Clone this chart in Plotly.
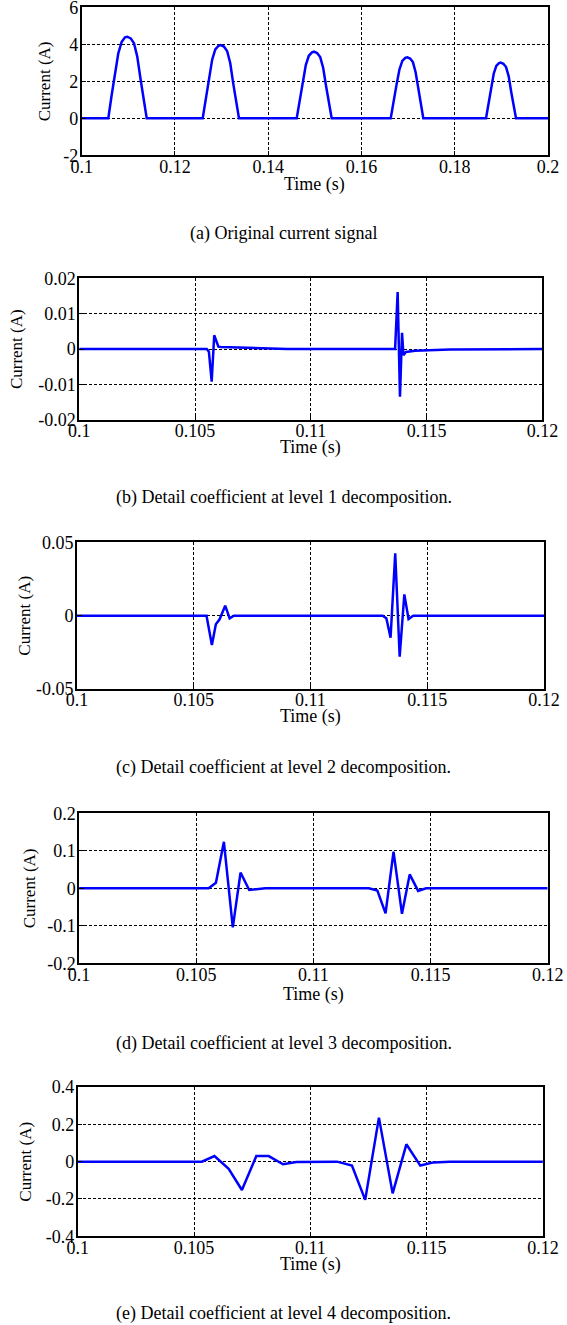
import plotly.graph_objects as go

# ---------------- data ----------------
a_time = [0.1,
          0.10571, 0.10643, 0.10714, 0.10785, 0.10858, 0.10929, 0.10978, 0.11051, 0.11122, 0.11192, 0.11265, 0.11336, 0.11394,
          0.12595, 0.12663, 0.12730, 0.12798, 0.12865, 0.12935, 0.12981, 0.13050, 0.13118, 0.13185, 0.13251, 0.13318, 0.13373,
          0.14611, 0.14676, 0.14741, 0.14806, 0.14871, 0.14938, 0.14982, 0.15048, 0.15115, 0.15179, 0.15244, 0.15308, 0.15361,
          0.16627, 0.16689, 0.16752, 0.16814, 0.16876, 0.16940, 0.16983, 0.17043, 0.17103, 0.17161, 0.17220, 0.17278, 0.17326,
          0.18671, 0.18726, 0.18781, 0.18836, 0.18891, 0.18948, 0.18986, 0.19043, 0.19101, 0.19157, 0.19212, 0.19268, 0.19314,
          0.2]
a_vals = [0,
          0, 1.26, 2.43, 3.51, 4.14, 4.38, 4.41, 4.32, 4.05, 3.33, 2.07, 0.81, 0,
          0, 1.15, 2.18, 3.17, 3.72, 3.92, 3.96, 3.88, 3.64, 2.99, 1.86, 0.71, 0,
          0, 1.04, 1.98, 2.88, 3.38, 3.56, 3.60, 3.53, 3.31, 2.72, 1.69, 0.65, 0,
          0, 0.96, 1.82, 2.64, 3.10, 3.27, 3.30, 3.23, 3.04, 2.49, 1.55, 0.59, 0,
          0, 0.87, 1.66, 2.41, 2.83, 2.98, 3.01, 2.95, 2.77, 2.27, 1.41, 0.54, 0,
          0]

b_time = [0.1, 0.10551, 0.10560, 0.10572, 0.10583, 0.10601, 0.10612, 0.1070, 0.1080, 0.1090,
          0.11364, 0.11375, 0.11385, 0.11394, 0.11400, 0.11411, 0.1145, 0.1150, 0.1160, 0.12]
b_vals = [0, 0, -0.00075, -0.0092, 0.0039, 0.0007, 0.0006, 0.0004, 0.0002, 0,
          0, 0.0161, -0.01343, 0.0046, -0.0017, -0.0008, -0.0005, -0.0003, -0.0001, 0]

c_time = [0.1, 0.10555, 0.10578, 0.10595, 0.10611, 0.10635, 0.10654, 0.10672,
          0.11309, 0.11325, 0.11343, 0.11363, 0.11382, 0.11402, 0.11420, 0.11440, 0.12]
c_vals = [0, 0, -0.0200, -0.0059, -0.0025, 0.0068, -0.0018, 0,
          0, -0.0018, -0.0150, 0.0425, -0.0280, 0.0145, -0.0023, 0, 0]

d_time = [0.1, 0.10553, 0.10584, 0.10618, 0.10656, 0.10689, 0.10726, 0.10795,
          0.11237, 0.11273, 0.11308, 0.11342, 0.11378, 0.11411, 0.11447, 0.11481, 0.12]
d_vals = [0, 0, 0.015, 0.124, -0.104, 0.042, -0.0044, 0,
          0, -0.006, -0.067, 0.098, -0.068, 0.037, -0.007, 0, 0]

e_time = [0.1, 0.10534, 0.10588, 0.10649, 0.10706, 0.10768, 0.10821, 0.10883, 0.10940,
          0.11115, 0.11179, 0.11236, 0.11295, 0.11354, 0.11413, 0.11473, 0.11530, 0.1160, 0.12]
e_vals = [0, 0, 0.030, -0.039, -0.152, 0.030, 0.030, -0.014, -0.002,
          0, -0.021, -0.205, 0.236, -0.170, 0.093, -0.021, -0.004, 0, 0]

a_xticks = [0.1, 0.12, 0.14, 0.16, 0.18, 0.2]
a_xlabels = ["0.1", "0.12", "0.14", "0.16", "0.18", "0.2"]
d_xticks = [0.1, 0.105, 0.11, 0.115, 0.12]
d_xlabels = ["0.1", "0.105", "0.11", "0.115", "0.12"]

a_yticks = [-2, 0, 2, 4, 6]
a_ylabels = ["-2", "0", "2", "4", "6"]
b_yticks = [-0.02, -0.01, 0, 0.01, 0.02]
b_ylabels = ["-0.02", "-0.01", "0", "0.01", "0.02"]
c_yticks = [-0.05, 0, 0.05]
c_ylabels = ["-0.05", "0", "0.05"]
d_yticks = [-0.2, -0.1, 0, 0.1, 0.2]
d_ylabels = ["-0.2", "-0.1", "0", "0.1", "0.2"]
e_yticks = [-0.4, -0.2, 0, 0.2, 0.4]
e_ylabels = ["-0.4", "-0.2", "0", "0.2", "0.4"]

captions = ["(a) Original current signal",
            "(b) Detail coefficient at level 1 decomposition.",
            "(c) Detail coefficient at level 2 decomposition.",
            "(d) Detail coefficient at level 3 decomposition.",
            "(e) Detail coefficient at level 4 decomposition."]
xlabel = "Time (s)"
ylabel = "Current (A)"

# ---------------- layout geometry (pixels) ----------------
W, H = 567, 1325
FONT = "Liberation Serif"
panels = [
    dict(x0=81.7, x1=548.0, yt=7.3, yb=155.3, xr=[0.1, 0.2], yr=[-2, 6], xt=a_xticks, xl=a_xlabels,
         yt_=a_yticks, yl=a_ylabels, ylx=44, ty=184, cy=234, t=a_time, v=a_vals),
    dict(x0=79.2, x1=542.4, yt=278.2, yb=420.0, xr=[0.1, 0.12], yr=[-0.02, 0.02], xt=d_xticks, xl=d_xlabels,
         yt_=b_yticks, yl=b_ylabels, ylx=16, ty=448, cy=497, t=b_time, v=b_vals),
    dict(x0=76.9, x1=544.0, yt=542.3, yb=689.0, xr=[0.1, 0.12], yr=[-0.05, 0.05], xt=d_xticks, xl=d_xlabels,
         yt_=c_yticks, yl=c_ylabels, ylx=25, ty=717, cy=767, t=c_time, v=c_vals),
    dict(x0=79.1, x1=547.7, yt=813.3, yb=963.3, xr=[0.1, 0.12], yr=[-0.2, 0.2], xt=d_xticks, xl=d_xlabels,
         yt_=d_yticks, yl=d_ylabels, ylx=29, ty=994, cy=1043, t=d_time, v=d_vals),
    dict(x0=77.7, x1=542.9, yt=1087.0, yb=1236.3, xr=[0.1, 0.12], yr=[-0.4, 0.4], xt=d_xticks, xl=d_xlabels,
         yt_=e_yticks, yl=e_ylabels, ylx=26, ty=1264, cy=1313, t=e_time, v=e_vals),
]

fig = go.Figure()
layout = dict(width=W, height=H, autosize=False, margin=dict(l=0, r=0, t=0, b=0, pad=0),
              paper_bgcolor="white", plot_bgcolor="white", showlegend=False,
              font=dict(family=FONT, size=18, color="black"))
annotations = []

for i, p in enumerate(panels):
    n = "" if i == 0 else str(i + 1)
    fig.add_trace(go.Scatter(x=p["t"], y=p["v"], mode="lines",
                             line=dict(color="#0000FF", width=2.5),
                             xaxis="x" + n, yaxis="y" + n, hoverinfo="skip"))
    common = dict(showline=True, mirror=True, linecolor="black", linewidth=1.5,
                  showgrid=True, gridcolor="black", gridwidth=1, griddash="3px,2px",
                  zeroline=False, ticks="inside", ticklen=5, tickcolor="black",
                  automargin=False, ticklabeloverflow="allow",
                  tickfont=dict(family=FONT, size=18, color="black"), fixedrange=True)
    layout["xaxis" + n] = dict(common, domain=[p["x0"] / W, p["x1"] / W], range=p["xr"],
                               tickmode="array", tickvals=p["xt"], ticktext=p["xl"],
                               ticklabelstandoff=-6, anchor="y" + n)
    layout["yaxis" + n] = dict(common, domain=[1 - p["yb"] / H, 1 - p["yt"] / H], range=p["yr"],
                               tickmode="array", tickvals=p["yt_"], ticktext=p["yl"],
                               ticklabelstandoff=-2, anchor="x" + n)
    annotations.append(dict(text=xlabel, x=(p["x0"] + p["x1"]) / 2 / W, y=1 - p["ty"] / H,
                            xref="paper", yref="paper", showarrow=False,
                            xanchor="center", yanchor="middle",
                            font=dict(family=FONT, size=18, color="black")))
    annotations.append(dict(text=ylabel, x=p["ylx"] / W, y=1 - (p["yt"] + p["yb"]) / 2 / H,
                            xref="paper", yref="paper", showarrow=False, textangle=-90,
                            xanchor="center", yanchor="middle",
                            font=dict(family=FONT, size=17, color="black")))
    annotations.append(dict(text=captions[i], x=0.5, y=1 - p["cy"] / H,
                            xref="paper", yref="paper", showarrow=False,
                            xanchor="center", yanchor="middle",
                            font=dict(family=FONT, size=18, color="black")))

layout["annotations"] = annotations
fig.update_layout(**layout)
fig.write_html("out.html", config={"displayModeBar": False},
               post_script="document.body.style.margin='0';")
